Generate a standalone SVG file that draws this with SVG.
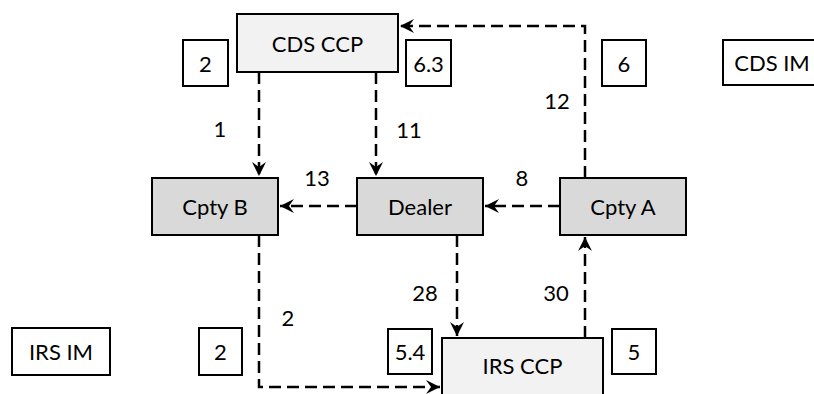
<svg xmlns="http://www.w3.org/2000/svg" width="814" height="394" viewBox="0 0 814 394">
<style>
  .box{stroke:#000;stroke-width:2}
  .ccp{fill:#f2f2f2}
  .cp{fill:#d9d9d9}
  .lbl{fill:#fff}
  text{font-family:Lato,"Liberation Sans",sans-serif;font-size:22px;fill:#000;text-anchor:middle;dominant-baseline:central}
  .c{fill:none;stroke:#000;stroke-width:2.5;stroke-dasharray:12 6}
</style>
<defs>
  <marker id="ah" markerUnits="userSpaceOnUse" markerWidth="18" markerHeight="18" viewBox="-16 -9 18 18" refX="0" refY="0" orient="auto">
    <path d="M0,0 L-14,-7 L-9,0 L-14,7 Z" fill="#000"/>
  </marker>
</defs>
<rect width="814" height="394" fill="#fff"/>
<g id="connectors">
  <path class="c" d="M259,72 V176" marker-end="url(#ah)"/>
  <path class="c" d="M376,72 V176" marker-end="url(#ah)"/>
  <path class="c" d="M357,206 H280" marker-end="url(#ah)"/>
  <path class="c" d="M560,206 H485" marker-end="url(#ah)"/>
  <path class="c" d="M585,178 V26 H400" marker-end="url(#ah)"/>
  <path class="c" d="M259,235 V387 H440" marker-end="url(#ah)"/>
  <path class="c" d="M457,235 V336" marker-end="url(#ah)"/>
  <path class="c" d="M585,338 V237" marker-end="url(#ah)"/>
  <text x="220" y="128">1</text>
  <text x="409" y="129">11</text>
  <text x="317" y="177">13</text>
  <text x="522" y="177">8</text>
  <text x="557" y="100">12</text>
  <text x="425" y="292">28</text>
  <text x="556" y="292">30</text>
  <text x="288" y="317">2</text>
</g>
<g id="cds-ccp"><rect class="box ccp" x="237" y="14" width="161" height="58"/><text x="317.5" y="43">CDS CCP</text></g>
<g id="irs-ccp"><rect class="box ccp" x="442" y="338" width="161" height="60"/><text x="522.5" y="365">IRS CCP</text></g>
<g id="cpty-b"><rect class="box cp" x="152" y="178" width="126" height="57"/><text x="215" y="206">Cpty B</text></g>
<g id="dealer"><rect class="box cp" x="357" y="178" width="126" height="57"/><text x="420" y="206">Dealer</text></g>
<g id="cpty-a"><rect class="box cp" x="560" y="178" width="126" height="57"/><text x="623" y="206">Cpty A</text></g>
<g id="box-2-top"><rect class="box lbl" x="183" y="40" width="45" height="46"/><text x="205.5" y="63">2</text></g>
<g id="box-6-3"><rect class="box lbl" x="406" y="40" width="45" height="46"/><text x="428.5" y="63">6.3</text></g>
<g id="box-6"><rect class="box lbl" x="602" y="40" width="44" height="46"/><text x="624" y="63">6</text></g>
<g id="cds-im"><rect class="box lbl" x="723" y="40" width="100" height="45"/><text x="772" y="62.5">CDS IM</text></g>
<g id="irs-im"><rect class="box lbl" x="12" y="328" width="98" height="47"/><text x="61" y="351.5">IRS IM</text></g>
<g id="box-2-bottom"><rect class="box lbl" x="199" y="328" width="43" height="47"/><text x="220.5" y="351.5">2</text></g>
<g id="box-5-4"><rect class="box lbl" x="388" y="329" width="44" height="45"/><text x="410" y="351.5">5.4</text></g>
<g id="box-5"><rect class="box lbl" x="612" y="329" width="44" height="45"/><text x="634" y="351.5">5</text></g>
</svg>
